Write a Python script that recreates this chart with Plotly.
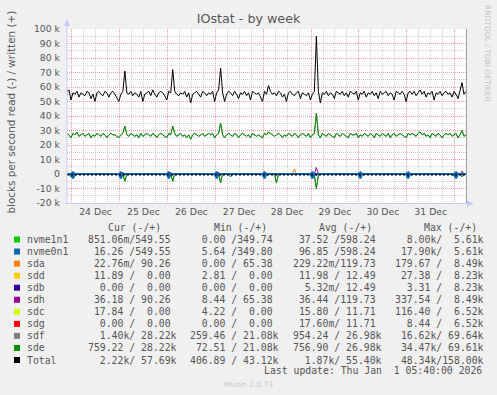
import plotly.graph_objects as go
import pandas as pd

# ---------------- data (values in thousands of blocks/s) ----------------
start = pd.Timestamp("2025-12-23 21:40")
end = pd.Timestamp("2026-01-01 05:40")
times = pd.date_range(start, end, freq="h")  # hourly samples, 201 points
N = len(times)

total_write = [
    57, 58, 51, 56, 55, 57, 53, 56, 55, 54, 57, 56, 52, 55, 50, 56, 57, 55, 54, 57, 56, 53, 56, 57,
    55, 52, 50, 55, 57, 71, 56, 55, 57, 54, 56, 55, 53, 57, 50, 55, 56, 57, 54, 58, 55, 53, 56, 57,
    56, 54, 51, 57, 56, 72, 57, 55, 54, 56, 55, 57, 53, 56, 49, 55, 56, 57, 55, 53, 57, 56, 54, 56,
    55, 57, 50, 56, 58, 73, 56, 50, 55, 57, 56, 54, 57, 55, 52, 56, 55, 57, 54, 56, 51, 57, 56, 55,
    56, 53, 50, 57, 55, 61, 57, 55, 56, 54, 57, 56, 53, 55, 50, 56, 57, 55, 54, 56, 57, 52, 56, 55,
    54, 56, 51, 55, 57, 95, 57, 49, 56, 55, 57, 54, 56, 55, 52, 57, 56, 55, 57, 54, 56, 53, 57, 56,
    55, 57, 51, 56, 55, 57, 53, 56, 55, 57, 54, 56, 52, 57, 55, 56, 57, 54, 56, 55, 51, 57, 56, 55,
    57, 55, 50, 56, 57, 55, 57, 54, 56, 58, 55, 57, 53, 56, 55, 57, 51, 56, 55, 57, 54, 56, 57, 55,
    56, 53, 57, 55, 52, 58, 63, 55, 57,
]

sde_write = [
    28, 27, 25, 28, 27, 29, 26, 27, 28, 26, 27, 28, 25, 27, 26, 28, 27, 26, 28, 27, 25, 27, 28, 27,
    27, 26, 25, 27, 28, 33, 27, 26, 28, 27, 26, 27, 25, 28, 26, 27, 28, 27, 26, 28, 27, 25, 27, 28,
    27, 26, 25, 28, 27, 33, 28, 26, 27, 28, 26, 27, 25, 27, 24, 27, 28, 27, 26, 27, 28, 26, 27, 28,
    27, 28, 25, 27, 28, 35, 27, 25, 27, 28, 27, 26, 28, 27, 25, 27, 28, 27, 26, 27, 25, 28, 27, 26,
    27, 26, 25, 28, 27, 29, 28, 27, 26, 27, 28, 27, 25, 27, 26, 28, 27, 26, 28, 27, 25, 27, 28, 27,
    26, 28, 25, 27, 28, 42, 27, 25, 28, 27, 26, 28, 27, 26, 25, 28, 27, 26, 28, 27, 26, 25, 28, 27,
    27, 28, 25, 27, 26, 28, 27, 26, 28, 27, 25, 28, 27, 26, 28, 27, 26, 28, 25, 27, 28, 26, 27, 28,
    27, 26, 25, 28, 27, 28, 27, 26, 28, 29, 27, 28, 26, 27, 25, 28, 27, 26, 28, 27, 25, 27, 28, 27,
    28, 26, 27, 28, 25, 27, 30, 26, 27,
]
sdf_write = list(sde_write)  # sdf is hidden under sde in the picture

sde_read_events = {2: -2, 29: -5, 53: -5, 77: -6, 82: -2, 105: -6, 123: -1, 124: -1,
                   125: -10, 126: -1, 147: -1, 171: -1.5, 194: -1.5, 198: -2}
sdf_read_events = dict(sde_read_events)
nvme0_read_events = {3: -3, 27: -3, 51: -3, 75: -3, 99: -3, 123: -3, 147: -3, 171: -3, 195: -3}
nvme0_write_events = {3: 1.2, 27: 1.2, 51: 1.2, 75: 1.2, 99: 1.2, 123: 1.2, 147: 1.2, 171: 1.2, 195: 1.2}
nvme1_read_events = {3: -2, 27: -2, 51: -2, 75: -2, 99: -2, 123: -2, 147: -2, 171: -2, 195: -2}
nvme1_write_events = {3: 1, 27: 1, 51: 1, 75: 1, 99: 1, 123: 1, 147: 1, 171: 1, 195: 1}
sda_write_events = {114: 3.5}
sdh_write_events = {28: 1, 52: 1, 76: 1, 125: 4.5, 198: 2}
sdh_read_events = {125: -1}
total_read_level = -0.6

# legend table
leg_names = ["nvme1n1", "nvme0n1", "sda", "sdd", "sdb", "sdh", "sdc", "sdg", "sdf", "sde", "Total"]
leg_colors = ["#00CC00", "#0066B3", "#FF8000", "#FFCC00", "#330099", "#990099",
              "#CCFF00", "#FF0000", "#808080", "#008F00", "#000000"]
leg_cur = ["851.06m/549.55 ", " 16.26 /549.55 ", " 22.76m/ 90.26 ", " 11.89 /  0.00 ",
           "  0.00 /  0.00 ", " 36.18 / 90.26 ", " 17.84 /  0.00 ", "  0.00 /  0.00 ",
           "  1.40k/ 28.22k", "759.22 / 28.22k", "  2.22k/ 57.69k"]
leg_min = ["  0.00 /349.74 ", "  5.64 /349.80 ", "  0.00 / 65.38 ", "  2.81 /  0.00 ",
           "  0.00 /  0.00 ", "  8.44 / 65.38 ", "  4.22 /  0.00 ", "  0.00 /  0.00 ",
           "259.46 / 21.08k", " 72.51 / 21.08k", "406.89 / 43.12k"]
leg_avg = [" 37.52 /598.24 ", " 96.85 /598.24 ", "229.22m/119.73 ", " 11.98 / 12.49 ",
           "  5.32m/ 12.49 ", " 36.44 /119.73 ", " 15.80 / 11.71 ", " 17.60m/ 11.71 ",
           "954.24 / 26.98k", "756.90 / 26.98k", "  1.87k/ 55.40k"]
leg_max = ["  8.00k/  5.61k", " 17.90k/  5.61k", "179.67 /  8.49k", " 27.38 /  8.23k",
           "  3.31 /  8.23k", "337.54 /  8.49k", "116.40 /  6.52k", "  8.44 /  6.52k",
           " 16.62k/ 69.64k", " 34.47k/ 69.61k", " 48.34k/158.00k"]
headers = ["Cur (-/+)", "Min (-/+)", "Avg (-/+)", "Max (-/+)"]
last_update = "Last update: Thu Jan  1 05:40:00 2026"

y_ticks = [-20, -10, 0, 10, 20, 30, 40, 50, 60, 70, 80, 90, 100]
y_ticktext = ["-20 k", "-10 k", "0", "10 k", "20 k", "30 k", "40 k", "50 k",
              "60 k", "70 k", "80 k", "90 k", "100 k"]


def from_events(events, base=0.0):
    vals = [base] * N
    for i, v in events.items():
        vals[i] = v
    return vals


# ---------------- geometry ----------------
W, H = 497, 395
L, T, PW, PH = 67, 29, 399, 174
R = W - L - PW
B = H - T - PH


def px_x(px):
    return (px - L) / PW


def px_y(py):
    return (T + PH - py) / PH


fig = go.Figure()


def add_line(y, color, width=1.0, dash=None):
    fig.add_trace(go.Scatter(x=times, y=y, mode="lines",
                             line=dict(color=color, width=width, dash=dash),
                             hoverinfo="skip", showlegend=False))


zeros = [0.0] * N
# draw order
add_line(from_events(sdf_read_events), "#808080")
add_line(sdf_write, "#808080")
add_line(from_events(sde_read_events), "#008F00")
add_line(sde_write, "#008F00")
for c in ["#FFCC00", "#330099", "#CCFF00", "#FF0000"]:  # sdd, sdb, sdc, sdg
    add_line(zeros, c)
add_line(from_events(sda_write_events), "#FF8000")
add_line(from_events(sdh_read_events), "#990099")
add_line(from_events(sdh_write_events), "#990099")
add_line(from_events(nvme1_read_events), "#00CC00")
add_line(from_events(nvme1_write_events), "#00CC00")
add_line(from_events(nvme0_read_events), "#0066B3", 2)
add_line(from_events(nvme0_write_events), "#0066B3", 2)
add_line([total_read_level] * N, "#000000", 1.5, "2px,2px")
add_line(total_write, "#000000", 1)

TXT = "#555555"
MONO = "DejaVu Sans Mono"
SANS = "DejaVu Sans"

ann = []


def nb(s):
    return s.replace(" ", "\u00a0")


def text(px, py, s, size=9.8, font=MONO, color=TXT, xanchor="left", angle=0):
    ann.append(dict(x=px_x(px), y=px_y(py), xref="paper", yref="paper", text=nb(s),
                    showarrow=False, xanchor=xanchor, yanchor="middle", borderpad=0,
                    textangle=angle, font=dict(family=font, size=size, color=color)))


# legend table
col_x = [86.8, 189.0, 292.1, 393.8]
hdr_x = [106.8, 212.8, 317.8, 422.8]
for hx, h in zip(hdr_x, headers):
    text(hx, 227.7, h)
shapes = []
for k, name in enumerate(leg_names):
    yy = 239.5 + 12.05 * k
    text(25.5, yy, name)
    for cx, col in zip(col_x, [leg_cur, leg_min, leg_avg, leg_max]):
        text(cx, yy, col[k])
    shapes.append(dict(type="rect", xref="paper", yref="paper",
                       x0=px_x(14), x1=px_x(20), y0=px_y(yy + 3), y1=px_y(yy - 3),
                       fillcolor=leg_colors[k], line=dict(width=0)))
text(482.5, 370.5, last_update, xanchor="right")
text(248, 384.5, "Munin 2.0.73", size=7.5, font=SANS, color="#C8C8C8", xanchor="center")
text(10.5, 112, "blocks per second read (-) / written (+)", size=10.4, font=SANS,
     xanchor="center", angle=-90)
text(488, 53, "RRDTOOL / TOBI OETIKER", size=7.5, font=SANS, color="#C4C4C4",
     xanchor="center", angle=90)

AX = "#C8C8F8"
# axis lines with arrows
shapes.append(dict(type="line", xref="paper", yref="paper", x0=px_x(67), x1=px_x(67),
                   y0=px_y(203.5), y1=px_y(22), line=dict(color=AX, width=1)))
shapes.append(dict(type="line", xref="paper", yref="paper", x0=px_x(66), x1=px_x(470),
                   y0=px_y(203.5), y1=px_y(203.5), line=dict(color=AX, width=1)))
shapes.append(dict(type="path", xref="paper", yref="paper",
                   path=f"M {px_x(64)} {px_y(26)} L {px_x(70)} {px_y(26)} L {px_x(67)} {px_y(19)} Z",
                   fillcolor=AX, line=dict(width=0)))
shapes.append(dict(type="path", xref="paper", yref="paper",
                   path=f"M {px_x(467)} {px_y(200.5)} L {px_x(467)} {px_y(206.5)} L {px_x(474)} {px_y(203.5)} Z",
                   fillcolor=AX, line=dict(width=0)))
shapes.append(dict(type="line", xref="paper", yref="paper", x0=px_x(466.5), x1=px_x(466.5),
                   y0=px_y(203), y1=px_y(29), line=dict(color="#A0A0A0", width=1)))

MAJ = "#F2A0A0"
MIN = "#D0D0D0"
fig.update_layout(
    width=W, height=H, autosize=False,
    margin=dict(l=L, r=R, t=T, b=B, pad=0),
    paper_bgcolor="#F0F0F0", plot_bgcolor="#FFFFFF",
    showlegend=False,
    title=dict(text="IOstat - by week", x=0.5, xref="container", xanchor="center",
               y=1 - 18.5 / H, yref="container", yanchor="middle",
               font=dict(family=SANS, size=12.7, color=TXT)),
    xaxis=dict(type="date", range=[start, end], dtick=86400000, tick0="2025-12-24",
               tickformat="%d %b", ticklabelmode="period", showgrid=True,
               gridcolor=MAJ, griddash="1px,1px", gridwidth=1, zeroline=False,
               showline=False, ticks="", ticklen=0, ticklabelstandoff=2,
               tickfont=dict(family=SANS, size=9.3, color=TXT),
               minor=dict(dtick=6 * 3600000, tick0="2025-12-24", showgrid=True,
                          gridcolor=MIN, griddash="1px,1px", gridwidth=1),
               fixedrange=True),
    yaxis=dict(range=[-20, 100], tickvals=y_ticks, ticktext=y_ticktext, showgrid=True,
               gridcolor=MAJ, griddash="1px,1px", gridwidth=1, zeroline=False,
               showline=False, ticks="", ticklabelstandoff=6,
               tickfont=dict(family=SANS, size=9.3, color=TXT),
               minor=dict(dtick=5, tick0=0, showgrid=True, gridcolor=MIN,
                          griddash="1px,1px", gridwidth=1),
               fixedrange=True),
    annotations=ann,
    shapes=shapes,
)

fig.write_html("out.html", config={"displayModeBar": False, "staticPlot": True})
